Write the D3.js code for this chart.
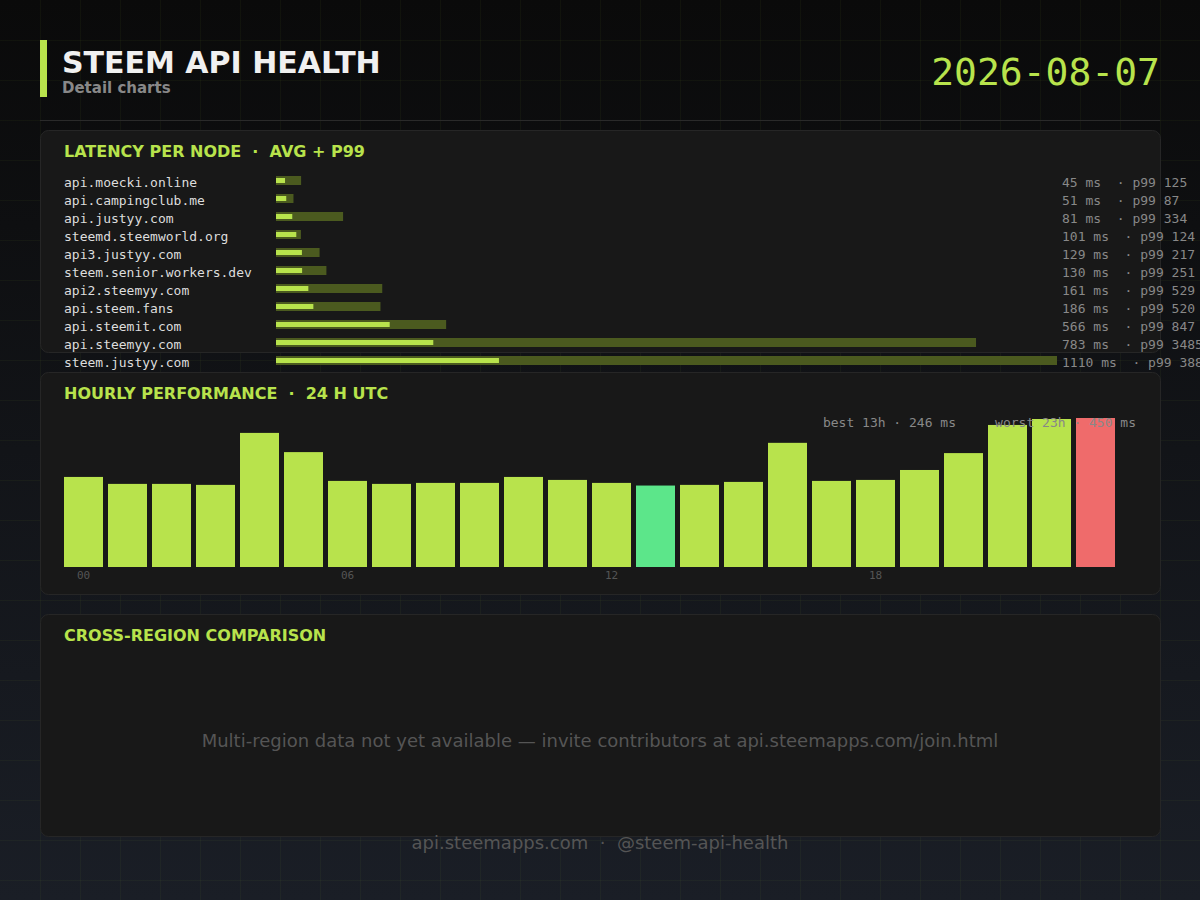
<!DOCTYPE html>
<html>
<head>
<meta charset="utf-8">
<script src="https://cdn.jsdelivr.net/npm/d3@7"></script>
<style>
  html, body { margin: 0; padding: 0; background: #0b0b0b; }
  svg { display: block; }
  text { white-space: pre; }
</style>
</head>
<body>
<svg id="chart"></svg>
<script>
// data
const nodes = [
  'api.moecki.online', 'api.campingclub.me', 'api.justyy.com', 'steemd.steemworld.org',
  'api3.justyy.com', 'steem.senior.workers.dev', 'api2.steemyy.com', 'api.steem.fans',
  'api.steemit.com', 'api.steemyy.com', 'steem.justyy.com'
];
const avgMs = [45, 51, 81, 101, 129, 130, 161, 186, 566, 783, 1110];
const p99Ms = [125, 87, 334, 124, 217, 251, 529, 520, 847, 3485, 3888];

const hours = [0, 1, 2, 3, 4, 5, 6, 7, 8, 9, 10, 11, 12, 13, 14, 15, 16, 17, 18, 19, 20, 21, 22, 23];
const hourlyMs = [272, 251, 251, 248, 405, 347, 260, 251, 254, 254, 272, 263,
                  254, 246, 248, 257, 375, 260, 263, 293, 344, 429, 447, 450];
const hourTicks = [0, 6, 12, 18];

const reportDate = '2026-08-07';
const emptyMsg = 'Multi-region data not yet available \u2014 invite contributors at api.steemapps.com/join.html';
const footerMsg = 'api.steemapps.com  \u00b7  @steem-api-health';

const W = 1200, H = 900;
const LIME = '#b8e34c', OLIVE = '#4b5a1f', GOOD = '#5ce68a', BAD = '#ef6b6b';
const SANS = '"DejaVu Sans", sans-serif';
const MONO = '"DejaVu Sans Mono", monospace';

const svg = d3.select('#chart').attr('width', W).attr('height', H);

// background gradient + faint grid
const defs = svg.append('defs');
const grad = defs.append('linearGradient').attr('id', 'bg').attr('x1', 0).attr('y1', 0).attr('x2', 0).attr('y2', 1);
grad.append('stop').attr('offset', '0%').attr('stop-color', '#0a0a0a');
grad.append('stop').attr('offset', '100%').attr('stop-color', '#1a1e26');
svg.append('rect').attr('width', W).attr('height', H).attr('fill', 'url(#bg)');

const grid = svg.append('g').attr('stroke', 'rgba(184,227,76,0.045)').attr('stroke-width', 1);
grid.selectAll('line.v').data(d3.range(40, W, 40)).join('line')
  .attr('x1', d => d + 0.5).attr('x2', d => d + 0.5).attr('y1', 0).attr('y2', H);
grid.selectAll('line.h').data(d3.range(40, H, 40)).join('line')
  .attr('y1', d => d + 0.5).attr('y2', d => d + 0.5).attr('x1', 0).attr('x2', W);

// header
svg.append('rect').attr('x', 40).attr('y', 40).attr('width', 7).attr('height', 57).attr('fill', LIME);
svg.append('text').attr('x', 62).attr('y', 73)
  .attr('font-family', SANS).attr('font-weight', 'bold').attr('font-size', 30)
  .attr('fill', '#f0f0f0').text('STEEM API HEALTH');
svg.append('text').attr('x', 62).attr('y', 93)
  .attr('font-family', SANS).attr('font-weight', 'bold').attr('font-size', 15)
  .attr('fill', '#888').text('Detail charts');
svg.append('text').attr('x', 1160).attr('y', 85).attr('text-anchor', 'end')
  .attr('font-family', MONO).attr('font-size', 38).attr('fill', LIME).text(reportDate);
svg.append('line').attr('x1', 40).attr('x2', 1160).attr('y1', 120.5).attr('y2', 120.5)
  .attr('stroke', '#2a2a2a');

// panels
const panels = [
  { y: 130, title: 'LATENCY PER NODE  \u00b7  AVG + P99' },
  { y: 372, title: 'HOURLY PERFORMANCE  \u00b7  24 H UTC' },
  { y: 614, title: 'CROSS-REGION COMPARISON' }
];
panels.forEach(p => {
  svg.append('rect').attr('x', 40.5).attr('y', p.y + 0.5).attr('width', 1120).attr('height', 222)
    .attr('rx', 8).attr('fill', '#181818').attr('stroke', '#262626');
  svg.append('text').attr('x', 64).attr('y', p.y + 27)
    .attr('font-family', SANS).attr('font-weight', 'bold').attr('font-size', 16)
    .attr('fill', LIME).text(p.title);
});

// latency per node
const lat = svg.append('g');
const xLat = d3.scaleLinear().domain([0, d3.max(p99Ms)]).range([276, 1057]);
const yLat = d3.scaleBand().domain(nodes).range([171.5, 369.5]);
const rows = lat.selectAll('g.row').data(nodes).join('g').attr('class', 'row')
  .attr('transform', d => `translate(0, ${yLat(d) + yLat.bandwidth() / 2})`);
rows.append('text').attr('x', 64).attr('y', 6)
  .attr('font-family', MONO).attr('font-size', 13).attr('fill', '#ddd').text(d => d);
rows.append('rect').attr('x', xLat(0)).attr('y', -4.5).attr('height', 9)
  .attr('width', (d, i) => xLat(p99Ms[i]) - xLat(0)).attr('fill', OLIVE);
rows.append('rect').attr('x', xLat(0)).attr('y', -2.5).attr('height', 5)
  .attr('width', (d, i) => xLat(avgMs[i]) - xLat(0)).attr('fill', LIME);
rows.append('text').attr('x', 1062).attr('y', 6)
  .attr('font-family', MONO).attr('font-size', 13).attr('fill', '#888')
  .text((d, i) => `${avgMs[i]} ms  \u00b7 p99 ${p99Ms[i]}`);

// hourly performance
const hr = svg.append('g');
const xHr = d3.scaleBand().domain(hours).range([64, 1115]).paddingInner(5 / 44).paddingOuter(0);
const yHr = d3.scaleLinear().domain([0, d3.max(hourlyMs)]).range([567, 418]);
const best = d3.minIndex(hourlyMs), worst = d3.maxIndex(hourlyMs);
hr.selectAll('rect').data(hours).join('rect')
  .attr('x', d => xHr(d)).attr('width', xHr.bandwidth())
  .attr('y', (d, i) => yHr(hourlyMs[i])).attr('height', (d, i) => yHr(0) - yHr(hourlyMs[i]))
  .attr('fill', (d, i) => i === best ? GOOD : i === worst ? BAD : LIME);
const pad2 = h => String(h).padStart(2, '0');
const xAxis = d3.axisBottom(xHr).tickValues(hourTicks).tickFormat(pad2).tickSize(0).tickPadding(4);
hr.append('g').attr('transform', 'translate(0, 567)').call(xAxis)
  .call(g => g.select('.domain').remove())
  .call(g => g.selectAll('text').attr('font-family', MONO).attr('font-size', 11).attr('fill', '#555'));
hr.append('text').attr('x', 1136).attr('y', 427).attr('text-anchor', 'end')
  .attr('font-family', MONO).attr('font-size', 13).attr('fill', '#888')
  .text(`best ${pad2(hours[best])}h \u00b7 ${hourlyMs[best]} ms     worst ${pad2(hours[worst])}h \u00b7 ${hourlyMs[worst]} ms`);

// cross-region (no data)
svg.append('text').attr('x', 600).attr('y', 747).attr('text-anchor', 'middle')
  .attr('font-family', SANS).attr('font-size', 18).attr('fill', '#555').text(emptyMsg);

// footer
svg.append('text').attr('x', 600).attr('y', 849).attr('text-anchor', 'middle')
  .attr('font-family', SANS).attr('font-size', 18).attr('fill', '#555').text(footerMsg);
</script>
</body>
</html>
